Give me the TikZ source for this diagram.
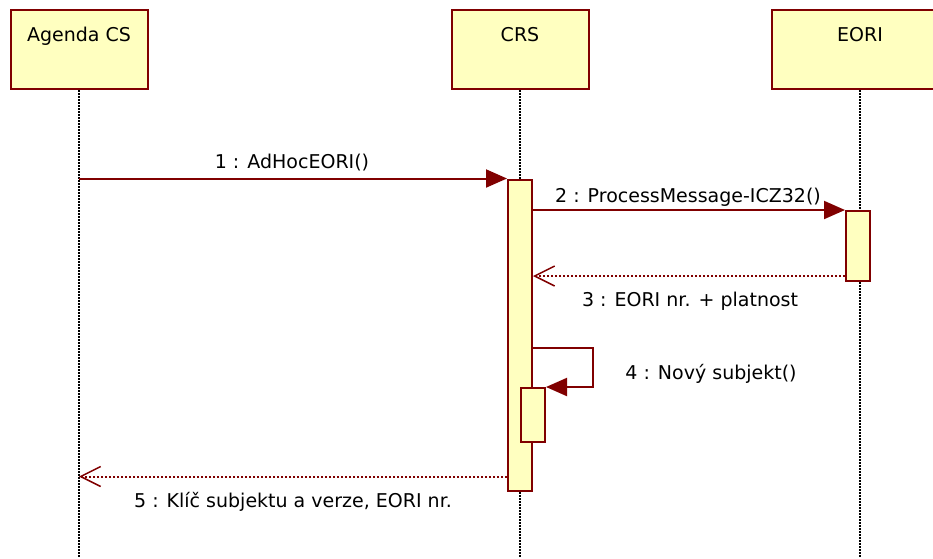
\documentclass[tikz,border=0pt]{standalone}
\usepackage{fontspec}
\setmainfont{DejaVu Sans}
\usetikzlibrary{arrows.meta}
\definecolor{umlred}{RGB}{128,0,0}
\definecolor{umlfill}{RGB}{255,255,192}

\begin{document}
\begin{tikzpicture}[x=1pt,y=-1pt]
	\tikzstyle{actor} = [draw=umlred, fill=umlfill, line width=2, minimum width=137, minimum height=79, inner sep=0, inner ysep=15, text height=16, text depth=33, font=\fontsize{19}{23}\selectfont]
	\tikzstyle{bar} = [draw=umlred, fill=umlfill, line width=2, minimum width=24, inner sep=0]
	\tikzstyle{lifeline} = [draw=black, line width=1.5, dash pattern=on 1.5pt off 1.5pt]
	\tikzstyle{msg} = [draw=umlred, line width=2, -{Triangle[length=21pt,width=18pt]}]
	\tikzstyle{ret} = [draw=umlred, line width=2, dash pattern=on 2pt off 2pt, -{Straight Barb[length=20pt,width=20pt,line width=1.5pt]}]
	\tikzstyle{lbl} = [anchor=base, inner sep=0, font=\fontsize{19}{23}\selectfont]
	\useasboundingbox (0,0) rectangle (933,558);
	\clip (0,0) rectangle (933,558);
	\node [actor] (v1) at (79,49.5) {Agenda CS};
	\node [actor] (v2) at (520,49.5) {CRS};
	\node [actor, minimum width=176] (v3) at (860,49.5) {EORI};
	\coordinate (v4) at (0,558);
	\draw [lifeline] (v1.south) -- (v1.south |- v4);
	\draw [lifeline] (v2.south) -- (v2.south |- v4);
	\draw [lifeline] (v3.south) -- (v3.south |- v4);
	\node [bar, minimum height=311] (v5) at (520,335) {};
	\node [bar, minimum height=70] (v6) at (858,246) {};
	\node [bar, minimum height=54] (v7) at (533,415) {};
	\draw [msg] (v1.south |- v5.north west) -- (v5.north west);
	\draw [msg] (v5.east |- v6.north west) -- (v6.north west);
	\draw [ret] ([yshift=6]v6.south west) -- ([yshift=6]v6.south west -| v5.east);
	\coordinate (v8) at (593,348);
	\draw [msg] (v5.east |- v8) -- (v8) |- (v7.north east);
	\draw [ret] ([yshift=15]v5.south west) -- ([yshift=15]v5.south west -| v1.south);
	\node [lbl] (v10) at (292,168) {1 : AdHocEORI()};
	\node [lbl] (v11) at (688,202) {2 : ProcessMessage-ICZ32()};
	\node [lbl] (v12) at (690,306) {3 : EORI nr. + platnost};
	\node [lbl] (v13) at (711,379) {4 : Nový subjekt()};
	\node [lbl] (v14) at (293,507) {5 : Klíč subjektu a verze, EORI nr.};
\end{tikzpicture}
\end{document}
